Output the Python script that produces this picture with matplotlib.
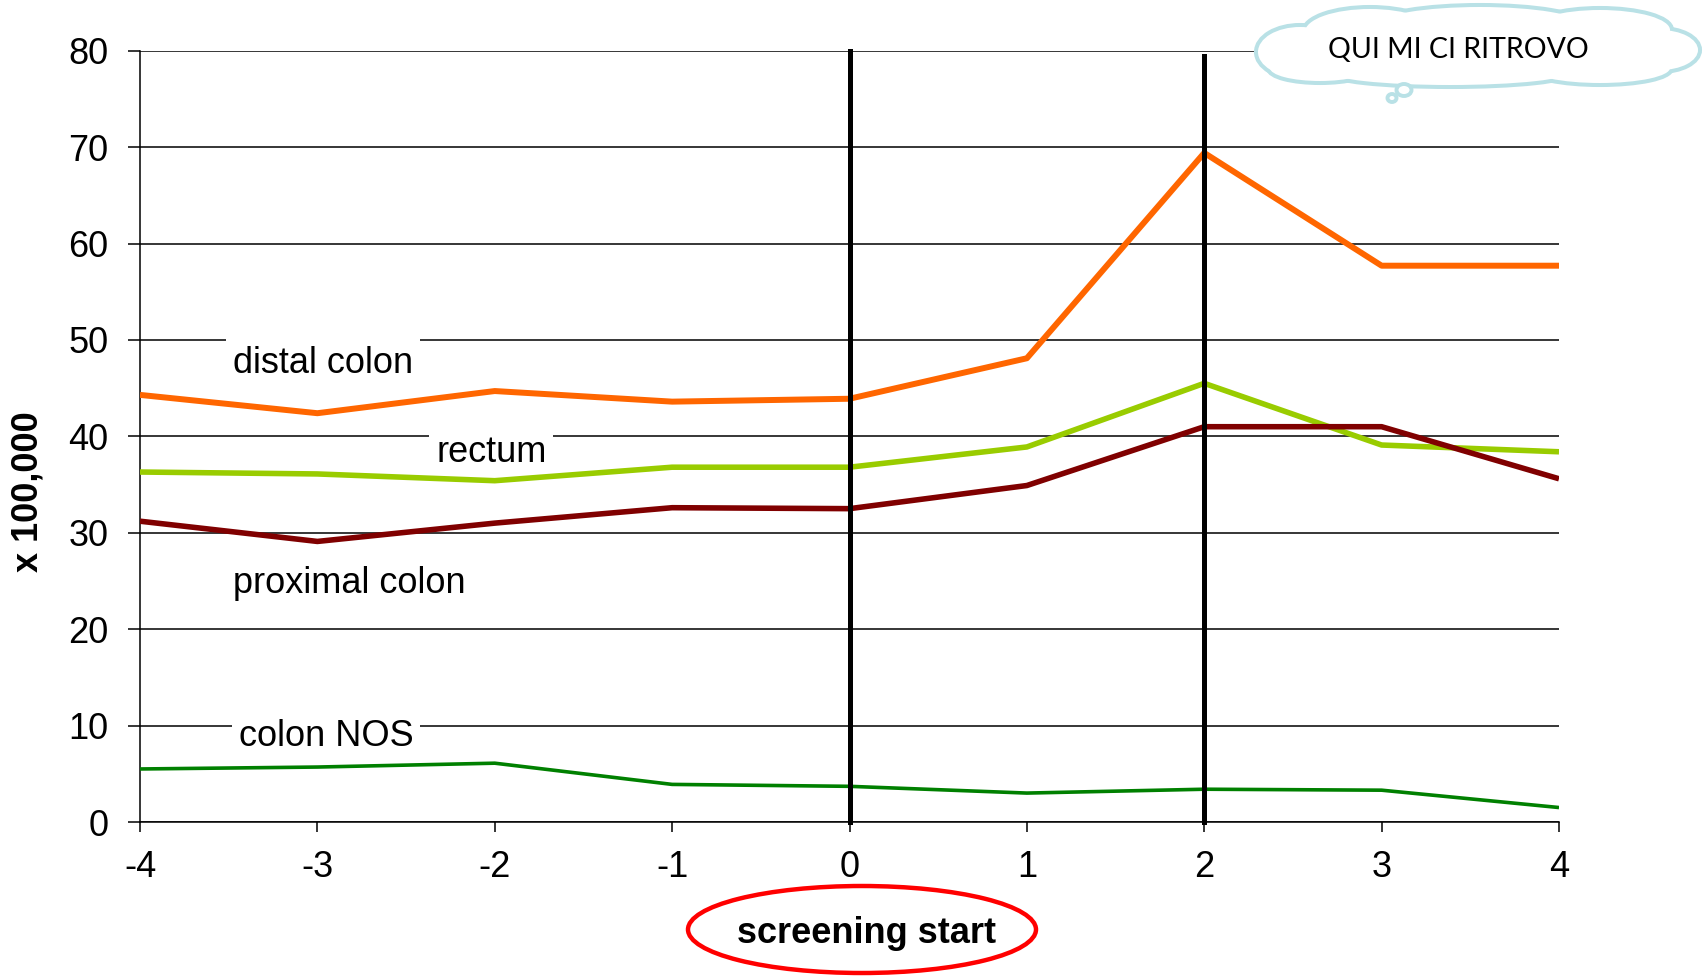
import matplotlib
matplotlib.use('Agg')
import matplotlib.pyplot as plt
from matplotlib.patches import Ellipse

plt.rcParams['font.family'] = ['Liberation Sans', 'DejaVu Sans']

# years relative to screening start
years = [-4, -3, -2, -1, 0, 1, 2, 3, 4]

# rates x 100,000
distal_colon = [44.3, 42.4, 44.7, 43.6, 43.9, 48.1, 69.4, 57.7, 57.7]
rectum = [36.3, 36.1, 35.4, 36.8, 36.8, 38.9, 45.5, 39.1, 38.4]
proximal_colon = [31.2, 29.1, 31.0, 32.6, 32.5, 34.9, 41.0, 41.0, 35.6]
colon_nos = [5.5, 5.7, 6.1, 3.9, 3.7, 3.0, 3.4, 3.3, 1.5]

series = [distal_colon, rectum, proximal_colon, colon_nos]
series_colors = ['#FF6600', '#99CC00', '#800000', '#008000']
series_widths = [4.3, 4.0, 4.0, 2.6]

# in-chart labels (x centre, baseline y)
label_texts = ['distal colon', 'rectum', 'proximal colon', 'colon NOS']
label_x = [-2.97, -2.02, -2.82, -2.95]
label_y = [46.6, 37.3, 23.8, 7.9]

# marker lines: screening start and year 2
marker_x = [0, 2]
marker_top = [80, 79.4]

yticks = [0, 10, 20, 30, 40, 50, 60, 70, 80]

W, H = 1703, 977
fig = plt.figure(figsize=(W / 100, H / 100), dpi=100)
ax = fig.add_axes([140 / W, 155 / H, 1419 / W, 771.3 / H])

for vals, col, lw in zip(series, series_colors, series_widths):
    ax.plot(years, vals, color=col, lw=lw, solid_capstyle='butt', zorder=3)

for mx, top in zip(marker_x, marker_top):
    ax.plot([mx, mx], [0, top], color='black', lw=3.6, zorder=4, clip_on=False)

for txt, tx, ty in zip(label_texts, label_x, label_y):
    ax.text(tx, ty, txt, fontsize=26, ha='center', va='baseline', zorder=2.5,
            bbox=dict(facecolor='white', edgecolor='none', pad=5))

ax.set_xlim(-4, 4)
ax.set_ylim(0, 80)
ax.set_xticks(years)
ax.set_xticklabels([str(y) for y in years])
ax.set_yticks(yticks)
ax.yaxis.grid(True, color='black', lw=1.1)
ax.set_axisbelow(True)
for s in ['top', 'right']:
    ax.spines[s].set_visible(False)
for s in ['left', 'bottom']:
    ax.spines[s].set_linewidth(1.1)
ax.tick_params(axis='y', direction='out', length=8.6, width=1.1, pad=14, labelsize=26)
ax.tick_params(axis='x', direction='out', length=7.2, width=1.1, pad=13, labelsize=26)

fig.text(28 / W, 1 - 492 / H, 'x 100,000', rotation=90, fontsize=26,
         fontweight='bold', ha='center', va='center')

# overlay in pixel coordinates for the callouts
ov = fig.add_axes([0, 0, 1, 1], zorder=10)
ov.set_xlim(0, W)
ov.set_ylim(H, 0)
ov.axis('off')
ov.patch.set_alpha(0)

# red ellipse around the x-axis title
ov.add_patch(Ellipse((862, 929.5), 348, 87, fill=False, edgecolor='#FF0000', lw=3.2))
ov.text(867, 943, 'screening start', fontsize=26, fontweight='bold',
        ha='center', va='baseline')

# thought cloud
cloud_col = '#B9E1E6'
lobes = [
    ((1300, 52), 84, 50), ((1370, 32), 130, 46), ((1480, 24), 200, 34),
    ((1600, 30), 140, 40), ((1660, 50), 76, 40), ((1600, 68), 140, 30),
    ((1450, 72), 240, 26), ((1320, 68), 100, 26), ((1478, 47), 380, 60),
]
for c, w, h in lobes:
    ov.add_patch(Ellipse(c, w, h, facecolor='white', edgecolor=cloud_col, lw=5.8, zorder=1))
for c, w, h in lobes:
    ov.add_patch(Ellipse(c, w, h, facecolor='white', edgecolor='none', zorder=2))
ov.add_patch(Ellipse((1404, 90), 15, 12, facecolor='white', edgecolor=cloud_col, lw=2.8, zorder=2))
ov.add_patch(Ellipse((1392, 98), 9, 8, facecolor='white', edgecolor=cloud_col, lw=2.8, zorder=2))
ov.text(1458, 50, 'QUI MI CI RITROVO', fontsize=20.5, family=['Lato', 'DejaVu Sans'],
        color='black', ha='center', va='center', zorder=3)

fig.savefig('out.png', dpi=100)
